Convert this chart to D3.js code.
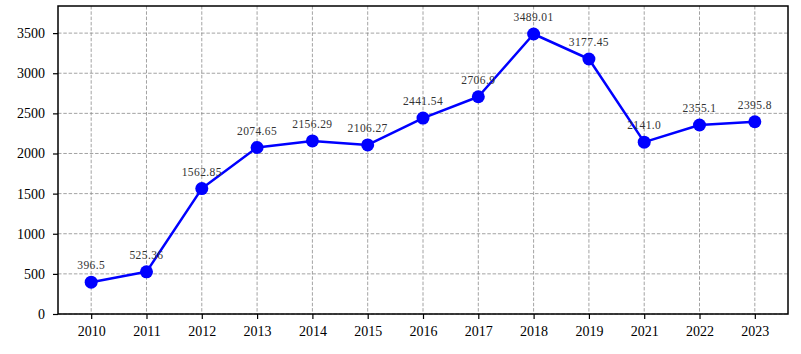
<!DOCTYPE html>
<html>
<head>
<meta charset="utf-8">
<script src="https://cdn.jsdelivr.net/npm/d3@7"></script>
<style>
  body { margin: 0; background: #fff; }
</style>
</head>
<body>
<div id="chart"></div>
<script>
// Daten
const years = ["2010", "2011", "2012", "2013", "2014", "2015", "2016", "2017", "2018", "2019", "2021", "2022", "2023"];
const values = [396.5, 525.36, 1562.85, 2074.65, 2156.29, 2106.27, 2441.54, 2706.9, 3489.01, 3177.45, 2141.0, 2355.1, 2395.8];
const labels = ["396.5", "525.36", "1562.85", "2074.65", "2156.29", "2106.27", "2441.54", "2706.9", "3489.01", "3177.45", "2141.0", "2355.1", "2395.8"];
const yTicks = [0, 500, 1000, 1500, 2000, 2500, 3000, 3500];

const width = 801;
const height = 354;
const marginTop = 6;
const marginRight = 13;
const marginBottom = 40;
const marginLeft = 58;

const svg = d3.select("#chart").append("svg")
  .attr("width", width)
  .attr("height", height);

// X-Skala: Index der Kategorien mit 5% Rand
const x = d3.scaleLinear()
  .domain([-0.6, years.length - 1 + 0.6])
  .range([marginLeft, width - marginRight]);

const y = d3.scaleLinear()
  .domain([0, d3.max(values) * 1.1])
  .range([height - marginBottom, marginTop]);

// Gitterlinien
svg.append("g")
  .selectAll("line")
  .data(yTicks)
  .join("line")
  .attr("x1", marginLeft).attr("x2", width - marginRight)
  .attr("y1", d => y(d)).attr("y2", d => y(d))
  .attr("stroke", "#8c8c8c")
  .attr("stroke-width", 0.8)
  .attr("stroke-dasharray", "3.5,1.8");

svg.append("g")
  .selectAll("line")
  .data(years)
  .join("line")
  .attr("x1", (d, i) => x(i)).attr("x2", (d, i) => x(i))
  .attr("y1", marginTop).attr("y2", height - marginBottom)
  .attr("stroke", "#8c8c8c")
  .attr("stroke-width", 0.8)
  .attr("stroke-dasharray", "3.5,1.8");

// Achsen
const xAxis = svg.append("g")
  .attr("transform", `translate(0,${height - marginBottom})`)
  .call(d3.axisBottom(x)
    .tickValues(d3.range(years.length))
    .tickFormat(i => years[i])
    .tickSize(5).tickPadding(7).tickSizeOuter(0));

const yAxis = svg.append("g")
  .attr("transform", `translate(${marginLeft},0)`)
  .call(d3.axisLeft(y).tickValues(yTicks).tickFormat(d3.format("d"))
    .tickSize(5).tickPadding(8).tickSizeOuter(0));

[xAxis, yAxis].forEach(g => {
  g.select(".domain").remove();
  g.selectAll(".tick line").attr("stroke", "#000").attr("stroke-width", 1.2);
  g.selectAll(".tick text")
    .attr("fill", "#000")
    .style("font-family", "'Liberation Serif', 'DejaVu Serif', serif")
    .style("font-size", "14px");
});

// Rahmen
svg.append("rect")
  .attr("x", marginLeft)
  .attr("y", marginTop)
  .attr("width", width - marginRight - marginLeft)
  .attr("height", height - marginBottom - marginTop)
  .attr("fill", "none")
  .attr("stroke", "#000")
  .attr("stroke-width", 1.5);

// Linie
const line = d3.line()
  .x((d, i) => x(i))
  .y(d => y(d));

svg.append("path")
  .datum(values)
  .attr("fill", "none")
  .attr("stroke", "#0000ff")
  .attr("stroke-width", 2.5)
  .attr("stroke-linejoin", "round")
  .attr("d", line);

svg.append("g")
  .attr("fill", "#0000ff")
  .selectAll("circle")
  .data(values)
  .join("circle")
  .attr("cx", (d, i) => x(i))
  .attr("cy", d => y(d))
  .attr("r", 6.5);

// Beschriftungen
svg.append("g")
  .selectAll("text")
  .data(values)
  .join("text")
  .attr("x", (d, i) => x(i))
  .attr("y", d => y(d) - 13)
  .attr("text-anchor", "middle")
  .attr("fill", "#333")
  .style("font-family", "'Liberation Serif', 'DejaVu Serif', serif")
  .style("font-size", "11.5px")
  .style("letter-spacing", "0.4px")
  .text((d, i) => labels[i]);
</script>
</body>
</html>
